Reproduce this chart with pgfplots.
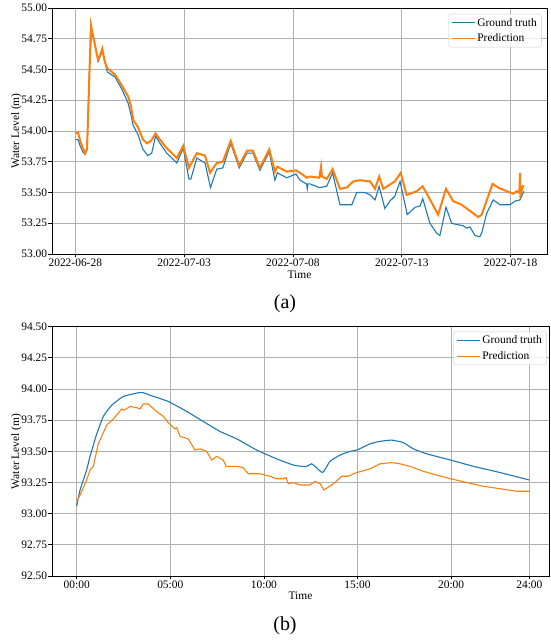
\documentclass[border=0pt]{standalone}
\usepackage{fontspec}
\setmainfont{Liberation Serif}
\usepackage{pgfplots}
\pgfplotsset{compat=1.18}
\definecolor{tabblue}{HTML}{1F77B4}
\definecolor{taborange}{HTML}{FF7F0E}
\definecolor{gridgray}{HTML}{B0B0B0}
\definecolor{legedge}{HTML}{CCCCCC}
\newcommand{\lblfont}{\fontsize{11.5}{13.5}\selectfont}

\pgfplotsset{
  mystyle/.style={
    scale only axis,
    axis line style={black, line width=0.8bp},
    grid=major,
    major grid style={gridgray, line width=0.8bp},
    tick align=outside,
    major tick length=3.5bp,
    tick style={black, line width=0.8bp},
    tick pos=left,
    tick label style={font=\lblfont},
    xticklabel style={inner sep=1bp},
    /pgf/number format/assume math mode=true,
    yticklabel style={inner sep=1.2bp, /pgf/number format/fixed, /pgf/number format/fixed zerofill, /pgf/number format/precision=2},
    ylabel={Water Level (m)}, xlabel={Time},
    legend cell align=left,
    legend style={draw=legedge, rounded corners=2bp, fill=white, fill opacity=0.8, text opacity=1,
      font=\lblfont, anchor=north east, inner xsep=3bp, inner ysep=2.5bp,
      nodes={inner sep=1.5bp}, row sep=3bp},
    legend image code/.code={\draw[#1, line width=1.1bp] (0bp,0bp) -- (23bp,0bp);},
  }
}

\begin{document}
\begin{tikzpicture}
\useasboundingbox (0,0) rectangle (551bp,642bp);

% ---------------- (a) ----------------
\begin{axis}[mystyle,
  at={(52bp,388bp)}, anchor=south west,
  width=495bp, height=246bp,
  xmin=-1.07, xmax=21.67, ymin=53, ymax=55,
  ytick={53,53.25,53.5,53.75,54,54.25,54.5,54.75,55},
  xtick={0,5,10,15,20},
  xticklabels={2022-06-28,2022-07-03,2022-07-08,2022-07-13,2022-07-18},
  every axis y label/.style={at={(axis description cs:-0.072,0.5)}, rotate=90, anchor=center, font=\lblfont, inner sep=0pt},
  every axis x label/.style={at={(axis description cs:0.5,-0.086)}, anchor=center, font=\lblfont, inner sep=0pt},
  legend style={at={(0.989,0.9756)}},
]
\addplot[tabblue, line width=1.1bp] coordinates {
(0.00,53.93) (0.12,53.93) (0.22,53.88) (0.35,53.83) (0.45,53.81) (0.54,53.86) (0.65,54.50)
(0.75,54.83) (0.86,54.74) (1.06,54.57) (1.24,54.65) (1.47,54.48) (1.82,54.44) (2.14,54.34)
(2.42,54.23) (2.56,54.13) (2.65,54.05) (2.88,53.97) (3.11,53.85) (3.33,53.80) (3.51,53.82)
(3.69,53.96) (3.89,53.90) (4.20,53.82) (4.44,53.78) (4.66,53.74) (4.96,53.86) (5.22,53.61)
(5.31,53.61) (5.58,53.78) (5.96,53.74) (6.21,53.54) (6.50,53.69) (6.78,53.70) (7.14,53.90)
(7.53,53.70) (7.89,53.82) (8.16,53.82) (8.48,53.68) (8.91,53.83) (9.17,53.60) (9.28,53.66)
(9.71,53.62) (10.14,53.65) (10.32,53.60) (10.62,53.57) (10.66,53.53) (10.69,53.57) (10.78,53.57)
(11.21,53.54) (11.55,53.55) (11.82,53.66) (12.16,53.40) (12.70,53.40) (12.93,53.50) (13.31,53.50)
(13.54,53.48) (13.77,53.44) (13.96,53.55) (14.22,53.37) (14.45,53.43) (14.68,53.47) (14.92,53.59)
(15.25,53.32) (15.61,53.38) (15.84,53.39) (15.96,53.45) (16.29,53.25) (16.60,53.17) (16.75,53.15)
(17.03,53.38) (17.29,53.25) (17.52,53.24) (17.82,53.23) (17.98,53.21) (18.13,53.22) (18.36,53.15)
(18.58,53.14) (18.67,53.17) (18.90,53.33) (19.20,53.44) (19.51,53.40) (19.97,53.40) (20.20,53.43)
(20.43,53.44) (20.61,53.51)
};
\addlegendentry{Ground truth}
\addplot[taborange, line width=2bp] coordinates {
(0.00,53.98) (0.12,53.99) (0.26,53.90) (0.45,53.82) (0.54,53.85) (0.72,54.86) (0.81,54.78)
(1.04,54.58) (1.13,54.61) (1.24,54.67) (1.36,54.56) (1.47,54.51) (1.82,54.46) (2.14,54.37)
(2.43,54.28) (2.56,54.20) (2.66,54.09) (2.88,54.03) (3.11,53.93) (3.29,53.90) (3.48,53.92)
(3.69,53.98) (3.89,53.93) (4.20,53.86) (4.44,53.82) (4.66,53.78) (4.96,53.88) (5.22,53.70)
(5.58,53.82) (5.96,53.80) (6.19,53.66) (6.50,53.74) (6.78,53.75) (7.14,53.92) (7.53,53.72)
(7.89,53.84) (8.16,53.84) (8.48,53.70) (8.91,53.85) (9.17,53.67) (9.28,53.71) (9.71,53.67)
(10.14,53.68) (10.32,53.66) (10.64,53.62) (10.78,53.63) (11.21,53.62) (11.29,53.71) (11.33,53.63)
(11.55,53.61) (11.82,53.69) (12.16,53.53) (12.47,53.54) (12.77,53.59) (13.08,53.60) (13.54,53.59)
(13.77,53.53) (13.96,53.63) (14.15,53.53) (14.68,53.59) (14.95,53.66) (15.22,53.48) (15.68,53.51)
(15.96,53.55) (16.21,53.47) (16.67,53.32) (17.03,53.53) (17.36,53.43) (17.75,53.40) (17.98,53.37)
(18.21,53.34) (18.51,53.30) (18.67,53.32) (18.97,53.47) (19.17,53.57) (19.43,53.54) (19.82,53.51)
(20.12,53.49) (20.28,53.51) (20.40,53.50) (20.43,53.66) (20.45,53.48) (20.58,53.56)
};
\addlegendentry{Prediction}
\end{axis}

% ---------------- (b) ----------------
\begin{axis}[mystyle,
  at={(52bp,66bp)}, anchor=south west,
  width=497bp, height=249.3bp,
  xmin=-1.32, xmax=25.23, ymin=92.5, ymax=94.5,
  ytick={92.5,92.75,93,93.25,93.5,93.75,94,94.25,94.5},
  xtick={0,5,10,15,20,24.18},
  xticklabels={00:00,05:00,10:00,15:00,20:00,24:00},
  every axis y label/.style={at={(axis description cs:-0.0715,0.5)}, rotate=90, anchor=center, font=\lblfont, inner sep=0pt},
  every axis x label/.style={at={(axis description cs:0.5,-0.078)}, anchor=center, font=\lblfont, inner sep=0pt},
  legend style={at={(0.995,0.98)}},
]
\addplot[tabblue, line width=1.1bp, smooth, tension=0.3] coordinates {
(0.00,93.06) (0.18,93.19) (0.53,93.35) (0.71,93.46) (0.89,93.55) (1.07,93.64) (1.42,93.78)
(1.87,93.87) (2.49,93.94) (3.29,93.97) (3.56,93.97) (3.92,93.95) (4.89,93.90) (5.88,93.82)
(6.76,93.74) (7.65,93.66) (8.55,93.60) (9.62,93.51) (10.68,93.44) (11.57,93.39) (12.02,93.38)
(12.29,93.38) (12.55,93.40) (12.73,93.38) (13.14,93.33) (13.53,93.42) (14.07,93.47) (14.60,93.50)
(14.96,93.51) (15.67,93.56) (16.20,93.58) (16.83,93.59) (17.45,93.57) (17.98,93.52) (18.70,93.48)
(19.98,93.43) (21.19,93.38) (22.61,93.33) (24.18,93.27)
};
\addlegendentry{Ground truth}
\addplot[taborange, line width=1.1bp] coordinates {
(0.00,93.10) (0.18,93.15) (0.53,93.27) (0.71,93.35) (0.89,93.38) (1.15,93.56) (1.60,93.71)
(1.96,93.76) (2.40,93.84) (2.53,93.83) (2.85,93.86) (3.21,93.85) (3.38,93.84) (3.56,93.88)
(3.82,93.88) (4.18,93.83) (4.63,93.78) (4.89,93.73) (5.25,93.68) (5.34,93.69) (5.52,93.62)
(5.96,93.60) (6.32,93.51) (6.59,93.52) (6.94,93.50) (7.21,93.43) (7.48,93.46) (7.83,93.43)
(7.98,93.38) (8.55,93.38) (8.88,93.37) (9.17,93.32) (9.79,93.32) (10.33,93.30) (10.68,93.28)
(11.04,93.28) (11.18,93.29) (11.30,93.24) (11.57,93.25) (11.93,93.23) (12.46,93.23) (12.73,93.26)
(13.00,93.24) (13.21,93.19) (13.71,93.24) (14.16,93.30) (14.49,93.30) (14.96,93.33) (15.67,93.36)
(16.20,93.40) (16.83,93.41) (17.27,93.40) (17.80,93.38) (18.51,93.34) (19.23,93.31) (19.98,93.28)
(20.83,93.25) (21.72,93.22) (22.61,93.20) (23.50,93.18) (24.18,93.18)
};
\addlegendentry{Prediction}
\end{axis}

\node[font=\fontsize{20}{24}\selectfont] at (285bp,338bp) {(a)};
\node[font=\fontsize{20}{24}\selectfont] at (285bp,16bp) {(b)};
\end{tikzpicture}
\end{document}
